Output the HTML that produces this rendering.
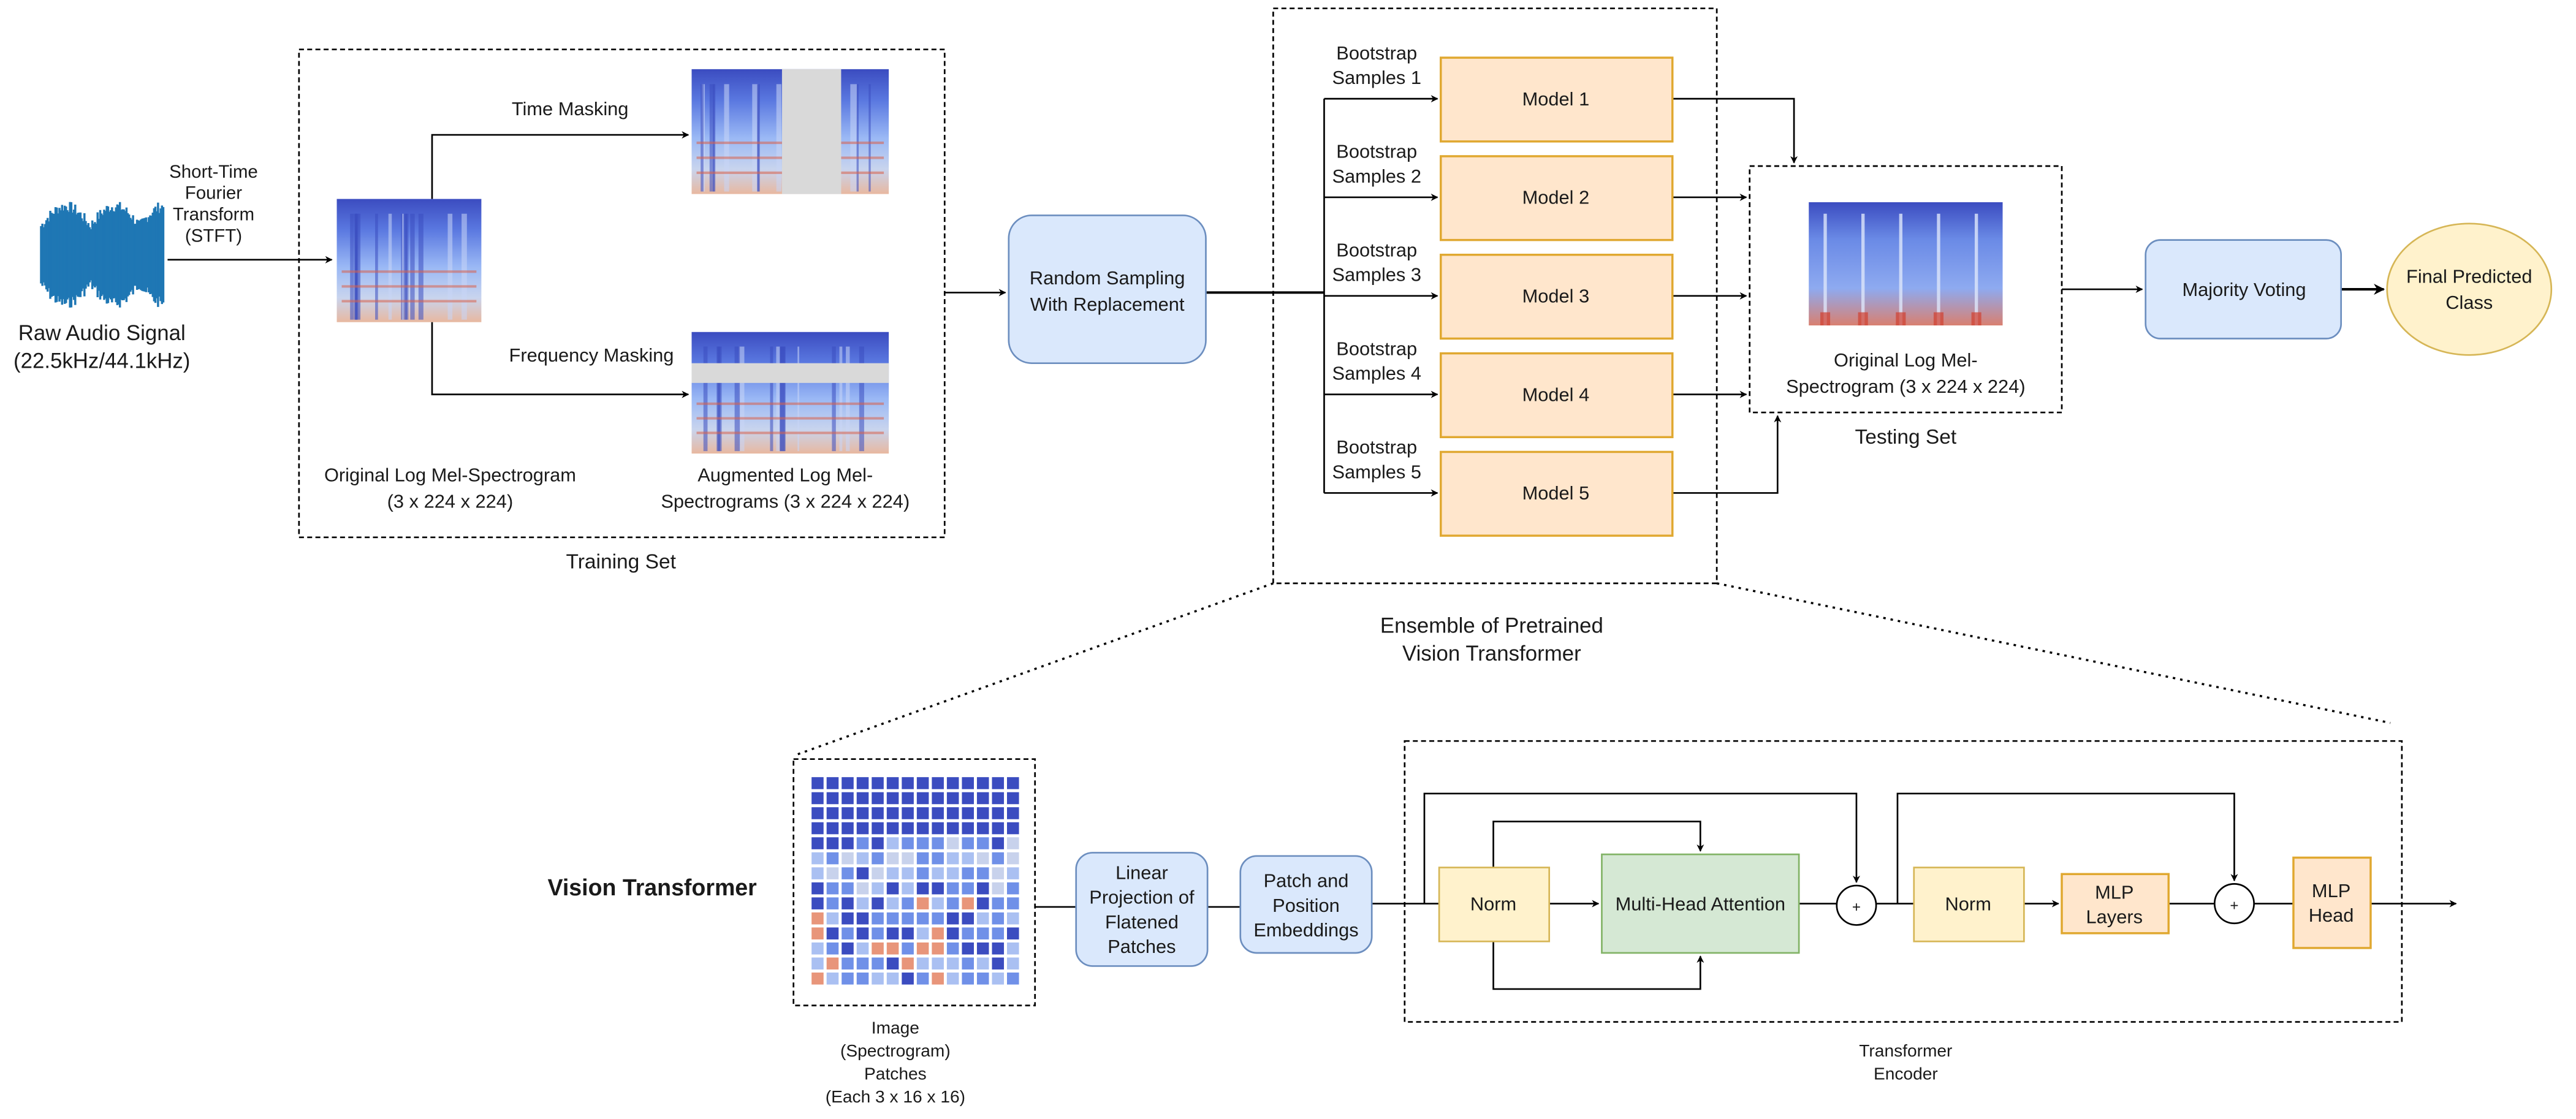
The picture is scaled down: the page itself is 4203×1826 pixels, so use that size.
<!DOCTYPE html>
<html><head><meta charset="utf-8">
<style>
html,body{margin:0;padding:0;background:#fff;}
svg{display:block;}
text{font-family:"Liberation Sans",Arial,sans-serif;fill:#1a1a1a;}
</style></head>
<body>
<svg id="s" width="4203" height="1826" viewBox="0 0 1568 681" xmlns="http://www.w3.org/2000/svg">
<defs>
<marker id="a" viewBox="0 0 10 10" refX="9" refY="5" markerWidth="4.5" markerHeight="4.5" orient="auto"><path d="M0,0 L10,5 L0,10 L3,5 z" fill="#000"/></marker>
<linearGradient id="sg" x1="0" y1="0" x2="0" y2="1">
<stop offset="0" stop-color="#3b4cc0"/><stop offset="0.25" stop-color="#5a78e0"/><stop offset="0.55" stop-color="#9ab8f5"/><stop offset="0.8" stop-color="#c8d4ee"/><stop offset="1" stop-color="#e8b8a0"/></linearGradient>
<linearGradient id="tg" x1="0" y1="0" x2="0" y2="1">
<stop offset="0" stop-color="#3b4cc0"/><stop offset="0.3" stop-color="#6a8ae6"/><stop offset="0.7" stop-color="#8eaaf0"/><stop offset="1" stop-color="#d98070"/></linearGradient>
</defs>
<g id="g" fill="none" stroke="#000" stroke-width="1">
<rect x="182" y="30" width="393" height="297" stroke-dasharray="3,2"/>
<rect x="775" y="5" width="270" height="350" stroke-dasharray="3,2"/>
<rect x="1065" y="101" width="190" height="150" stroke-dasharray="3,2"/>
<rect x="483" y="462" width="147" height="150" stroke-dasharray="3,2"/>
<rect x="855" y="451" width="607" height="171" stroke-dasharray="3,2"/>
<line x1="775" y1="355" x2="483" y2="460" stroke-dasharray="1.5,3" stroke-width="1.3"/>
<line x1="1045" y1="355" x2="1455" y2="440" stroke-dasharray="1.5,3" stroke-width="1.3"/>
<line x1="102" y1="158" x2="202" y2="158" marker-end="url(#a)"/>
<polyline points="263,121 263,82 419,82" marker-end="url(#a)"/>
<polyline points="263,196 263,240 419,240" marker-end="url(#a)"/>
<line x1="575" y1="178" x2="612" y2="178" marker-end="url(#a)"/>
<line x1="734" y1="178" x2="806" y2="178" stroke-width="1.5"/>
<line x1="806" y1="60" x2="806" y2="300"/>
<line x1="806" y1="60" x2="875" y2="60" marker-end="url(#a)"/>
<line x1="806" y1="120" x2="875" y2="120" marker-end="url(#a)"/>
<line x1="806" y1="180" x2="875" y2="180" marker-end="url(#a)"/>
<line x1="806" y1="240" x2="875" y2="240" marker-end="url(#a)"/>
<line x1="806" y1="300" x2="875" y2="300" marker-end="url(#a)"/>
<polyline points="1018,60 1092,60 1092,99" marker-end="url(#a)"/>
<line x1="1018" y1="120" x2="1063" y2="120" marker-end="url(#a)"/>
<line x1="1018" y1="180" x2="1063" y2="180" marker-end="url(#a)"/>
<line x1="1018" y1="240" x2="1063" y2="240" marker-end="url(#a)"/>
<polyline points="1018,300 1082,300 1082,253" marker-end="url(#a)"/>
<line x1="1255" y1="176" x2="1304" y2="176" marker-end="url(#a)"/>
<line x1="1425" y1="176" x2="1451" y2="176" marker-end="url(#a)" stroke-width="1.5"/>
<line x1="630" y1="552" x2="655" y2="552"/>
<line x1="735" y1="552" x2="755" y2="552"/>
<line x1="835" y1="550" x2="876" y2="550"/>
<line x1="943" y1="550" x2="973" y2="550" marker-end="url(#a)"/>
<polyline points="909,528 909,500 1035,500 1035,518" marker-end="url(#a)"/>
<polyline points="909,573 909,602 1035,602 1035,582" marker-end="url(#a)"/>
<polyline points="867,550 867,483 1130,483 1130,537" marker-end="url(#a)"/>
<line x1="1095" y1="550" x2="1118" y2="550"/>
<line x1="1142" y1="550" x2="1165" y2="550"/>
<line x1="1232" y1="550" x2="1253" y2="550" marker-end="url(#a)"/>
<polyline points="1155,550 1155,483 1360,483 1360,536" marker-end="url(#a)"/>
<line x1="1320" y1="550" x2="1348" y2="550"/>
<line x1="1372" y1="550" x2="1396" y2="550"/>
<line x1="1443" y1="550" x2="1495" y2="550" marker-end="url(#a)"/>
<circle cx="1130" cy="551" r="12" fill="#fff"/>
<circle cx="1360" cy="550" r="12" fill="#fff"/>
</g>
<rect x="614" y="131" width="120" height="90" rx="14" fill="#dae8fc" stroke="#6c8ebf"/>
<rect x="1306" y="146" width="119" height="60" rx="9" fill="#dae8fc" stroke="#6c8ebf"/>
<ellipse cx="1503" cy="176" rx="50" ry="40" fill="#fff2cc" stroke="#d6b656"/>
<g fill="#ffe6cc" stroke="#e0a830" stroke-width="1.3">
<rect x="877" y="35" width="141" height="51"/><rect x="877" y="95" width="141" height="51"/>
<rect x="877" y="155" width="141" height="51"/><rect x="877" y="215" width="141" height="51"/>
<rect x="877" y="275" width="141" height="51"/>
<rect x="1255" y="532" width="65" height="36"/><rect x="1396" y="522" width="47" height="55"/>
</g>
<rect x="655" y="519" width="80" height="69" rx="10" fill="#dae8fc" stroke="#6c8ebf"/>
<rect x="755" y="521" width="80" height="59" rx="10" fill="#dae8fc" stroke="#6c8ebf"/>
<rect x="876" y="528" width="67" height="45" fill="#fff2cc" stroke="#d6b656"/>
<rect x="1165" y="528" width="67" height="45" fill="#fff2cc" stroke="#d6b656"/>
<rect x="975" y="520" width="120" height="60" fill="#d5e8d4" stroke="#82b366"/>
<rect x="205" y="121" width="88" height="75" fill="url(#sg)"/>
<rect x="421" y="42" width="120" height="76" fill="url(#sg)"/>
<rect x="421" y="202" width="120" height="74" fill="url(#sg)"/>
<rect x="1101" y="123" width="118" height="75" fill="url(#tg)"/>
<g id="sp"></g>
<rect x="476" y="42" width="36" height="76" fill="#d9d9d9"/>
<rect x="421" y="221" width="120" height="12" fill="#d9d9d9"/>
<g id="grid"></g>
<g id="wave" stroke="#1f77b4" stroke-width="1.3"></g>
<g font-size="11.5" text-anchor="middle">
<text x="62" y="207" font-size="13">Raw Audio Signal</text>
<text x="62" y="224" font-size="13">(22.5kHz/44.1kHz)</text>
<text x="130" y="108" font-size="11">Short-Time</text><text x="130" y="121" font-size="11">Fourier</text><text x="130" y="134" font-size="11">Transform</text><text x="130" y="147" font-size="11">(STFT)</text>
<text x="347" y="70">Time Masking</text>
<text x="360" y="220">Frequency Masking</text>
<text x="274" y="293">Original Log Mel-Spectrogram</text><text x="274" y="309">(3 x 224 x 224)</text>
<text x="478" y="293">Augmented Log Mel-</text><text x="478" y="309">Spectrograms (3 x 224 x 224)</text>
<text x="378" y="346" font-size="12.5">Training Set</text>
<text x="674" y="173">Random Sampling</text><text x="674" y="189">With Replacement</text>
<text x="838" y="36">Bootstrap</text><text x="838" y="51">Samples 1</text>
<text x="838" y="96">Bootstrap</text><text x="838" y="111">Samples 2</text>
<text x="838" y="156">Bootstrap</text><text x="838" y="171">Samples 3</text>
<text x="838" y="216">Bootstrap</text><text x="838" y="231">Samples 4</text>
<text x="838" y="276">Bootstrap</text><text x="838" y="291">Samples 5</text>
<text x="947" y="64">Model 1</text><text x="947" y="124">Model 2</text><text x="947" y="184">Model 3</text><text x="947" y="244">Model 4</text><text x="947" y="304">Model 5</text>
<text x="908" y="385" font-size="13">Ensemble of Pretrained</text><text x="908" y="402" font-size="13">Vision Transformer</text>
<text x="1160" y="223">Original Log Mel-</text><text x="1160" y="239">Spectrogram (3 x 224 x 224)</text>
<text x="1160" y="270" font-size="12.5">Testing Set</text>
<text x="1366" y="180">Majority Voting</text>
<text x="1503" y="172">Final Predicted</text><text x="1503" y="188">Class</text>
<text x="397" y="545" font-size="14" font-weight="bold">Vision Transformer</text>
<text x="545" y="629" font-size="10.5">Image</text><text x="545" y="643" font-size="10.5">(Spectrogram)</text><text x="545" y="657" font-size="10.5">Patches</text><text x="545" y="671" font-size="10.5">(Each 3 x 16 x 16)</text>
<text x="695" y="535">Linear</text><text x="695" y="550">Projection of</text><text x="695" y="565">Flatened</text><text x="695" y="580">Patches</text>
<text x="795" y="540">Patch and</text><text x="795" y="555">Position</text><text x="795" y="570">Embeddings</text>
<text x="909" y="554">Norm</text><text x="1035" y="554">Multi-Head Attention</text>
<text x="1198" y="554">Norm</text>
<text x="1287" y="547">MLP</text><text x="1287" y="562">Layers</text>
<text x="1419" y="546">MLP</text><text x="1419" y="561">Head</text>
<text x="1130" y="555" font-size="9">+</text><text x="1360" y="554" font-size="9">+</text>
<text x="1160" y="643" font-size="10.5">Transformer</text><text x="1160" y="657" font-size="10.5">Encoder</text>
</g>
</svg>
<script>
var NS="http://www.w3.org/2000/svg";
var seed=7;function r(){seed=(seed*9301+49297)%233280;return seed/233280;}
function el(p,t,a){var e=document.createElementNS(NS,t);for(var k in a)e.setAttribute(k,a[k]);p.appendChild(e);return e;}
var w=document.getElementById("wave");
for(var x=25;x<=100;x+=0.8){var env=Math.sin((x-25)/75*Math.PI*2.5);var h=14+Math.abs(env)*12+r()*7;el(w,"line",{x1:x,x2:x,y1:155-h,y2:155+h});}
var g=document.getElementById("grid");
for(var i=0;i<14;i++)for(var j=0;j<14;j++){var t=i/13;var c;var v=r();
if(t<0.3||v<0.25)c="#3b4cc0";else if(v<0.55)c="#7090e8";else if(v<0.8)c="#aac0f2";else c=(t>0.6?"#e8957a":"#c8d2ec");
el(g,"rect",{x:494+j*9.15,y:473+i*9.15,width:7.3,height:7.3,fill:c});}
var sp=document.getElementById("sp");
function streaks(x0,y0,w0,h0){
 for(var k=0;k<14;k++){var xx=x0+4+r()*(w0-10);el(sp,"rect",{x:xx,y:y0+h0*0.12,width:1+r()*3,height:h0*0.86,fill:(r()<0.5?"#3b4cc0":"#c8d6f5"),opacity:0.55});}
 for(var k=0;k<3;k++){el(sp,"rect",{x:x0+3,y:y0+h0*(0.58+k*0.12),width:w0-6,height:1.5,fill:"#d9604a",opacity:0.55});}}
streaks(205,121,88,75);streaks(421,42,120,76);streaks(421,202,120,74);
for(var k=0;k<5;k++){el(sp,"rect",{x:1110+k*23,y:130,width:2,height:68,fill:"#dde6fa",opacity:0.8});el(sp,"rect",{x:1108+k*23,y:190,width:6,height:8,fill:"#d04030",opacity:0.7});}
</script>
</body></html>
